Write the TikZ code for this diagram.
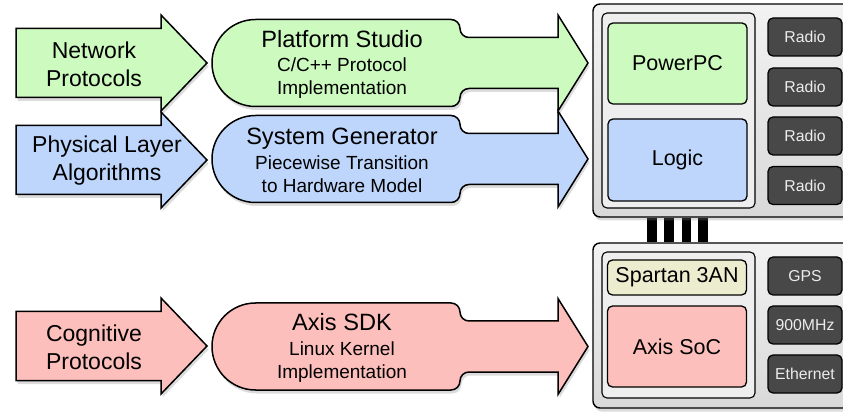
\documentclass[tikz,border=0pt]{standalone}
\usepackage{fontspec}
\setmainfont{Liberation Sans}
\usepackage{xcolor}
\usepackage{tikz}
\usetikzlibrary{shadows,backgrounds}
\definecolor{netgreen}{RGB}{205,250,190}
\definecolor{phyblue}{RGB}{190,214,252}
\definecolor{cogpink}{RGB}{253,191,187}
\definecolor{spartan}{RGB}{236,236,206}
\definecolor{radiogray}{RGB}{72,72,72}
\definecolor{corebg}{RGB}{238,238,238}
\newcommand{\bigsf}{\fontsize{23.6}{27}\selectfont}
\tikzset{
  softshadow/.style={drop shadow={opacity=0.28, shadow xshift=1.5pt, shadow yshift=-3.5pt}},
  flowshape/.style={draw=black, line width=1.5pt, line join=miter, softshadow},
  srclbl/.style={align=center, font=\fontsize{23}{28}\selectfont, inner sep=0pt},
  toollbl/.style={align=center, font=\fontsize{19}{23}\selectfont, inner sep=0pt},
  % boards
  board/.style={draw=black, line width=1.4pt, rounded corners=7pt, top color=gray!10,
    bottom color=gray!30, softshadow, minimum width=267pt, inner sep=0pt},
  fpga/.style={draw=black, line width=1.1pt, rounded corners=5pt, fill=corebg,
    minimum width=153pt, inner sep=0pt},
  core/.style={draw=black, line width=1.3pt, rounded corners=5pt, minimum width=139pt,
    inner sep=0pt, font=\fontsize{21.5}{25}\selectfont},
  radio/.style={draw=black, line width=1.3pt, rounded corners=5pt, fill=radiogray,
    text=gray!15, minimum width=74pt, minimum height=38pt, inner sep=0pt,
    font=\fontsize{15.8}{18}\selectfont},
  bus/.style={draw=black, line width=9.5pt}
}
% input arrow: centre y, colour
\newcommand{\srcarrow}[2]{%
  \path[flowshape, fill=#2] (16,#1+34.5) -- (161,#1+34.5) -- (161,#1+48) -- (207,#1)
    -- (161,#1-48) -- (161,#1-34.5) -- (16,#1-34.5) -- cycle;}
% tool arrow: centre y, colour
\newcommand{\toolarrow}[2]{%
  \path[flowshape, fill=#2] (255.5,#1+43.5) -- (451,#1+43.5)
    arc[start angle=90, end angle=0, radius=9] -- (460,#1+34.5)
    arc[start angle=180, end angle=270, radius=9] -- (558,#1+25.5) -- (558,#1+48)
    -- (588,#1) -- (558,#1-48) -- (558,#1-25.5) -- (469,#1-25.5)
    arc[start angle=90, end angle=180, radius=9] -- (460,#1-34.5)
    arc[start angle=0, end angle=-90, radius=9] -- (255.5,#1-43.5)
    arc[start angle=270, end angle=90, radius=43.5] -- cycle;}

\begin{document}
\begin{tikzpicture}[x=1pt, y=1pt]
  \useasboundingbox (0,0) rectangle (843,415);

  % source arrows and tool arrows
  \srcarrow{352}{netgreen}
  \toolarrow{352}{netgreen}
  \srcarrow{255}{phyblue}
  \toolarrow{256}{phyblue}
  \srcarrow{69}{cogpink}
  \toolarrow{68.5}{cogpink}

  \node[srclbl] (netproto) at (94,351) {Network\\Protocols};
  \node[srclbl] (phylayer) at (107,254) {Physical Layer\\Algorithms};
  \node[srclbl] (cogproto) at (94,68) {Cognitive\\Protocols};

  \node[toollbl] (pstudio) at (342,350.5) {{\bigsf Platform Studio}\\[1.5pt]C/C++ Protocol\\Implementation};
  \node[toollbl] (sysgen) at (342,254.5) {{\bigsf System Generator}\\[1.5pt]Piecewise Transition\\to Hardware Model};
  \node[toollbl] (axissdk) at (342,67) {{\bigsf Axis SDK}\\[1.5pt]Linux Kernel\\Implementation};

  % WARP board
  \node[board, minimum height=213pt] (warp) at (726.5,304.5) {};
  \node[fpga, minimum height=195pt] (virtex) at (678.5,304.5) {};
  \node[core, fill=netgreen, minimum height=81pt] (ppc) at (677.5,351.5) {PowerPC};
  \node[core, fill=phyblue, minimum height=82pt] (logic) at (677.5,255) {Logic};
  \foreach \ry [count=\i] in {378,328,279,229.5}
    \node[radio] (radio\i) at (805,\ry) {Radio};

  % Axis board
  \node[board, minimum height=165pt] (axis) at (726.5,89.5) {};
  \node[fpga, minimum height=146pt] (axisfpga) at (678.5,90) {};
  \node[core, fill=spartan, minimum height=35pt] (spartan) at (677,137.5) {Spartan 3AN};
  \node[core, fill=cogpink, minimum height=81pt] (axissoc) at (677,68.5) {Axis SoC};
  \node[radio] (gps) at (805,139) {GPS};
  \node[radio] (ism) at (805,90) {900MHz};
  \node[radio] (eth) at (805,41) {Ethernet};

  % connector between boards
  \begin{scope}[on background layer]
    \foreach \bx in {652,669,686.5,703}
      \draw[bus] (\bx,0 |- warp.south) -- (\bx,0 |- axis.north);
  \end{scope}
\end{tikzpicture}
\end{document}
